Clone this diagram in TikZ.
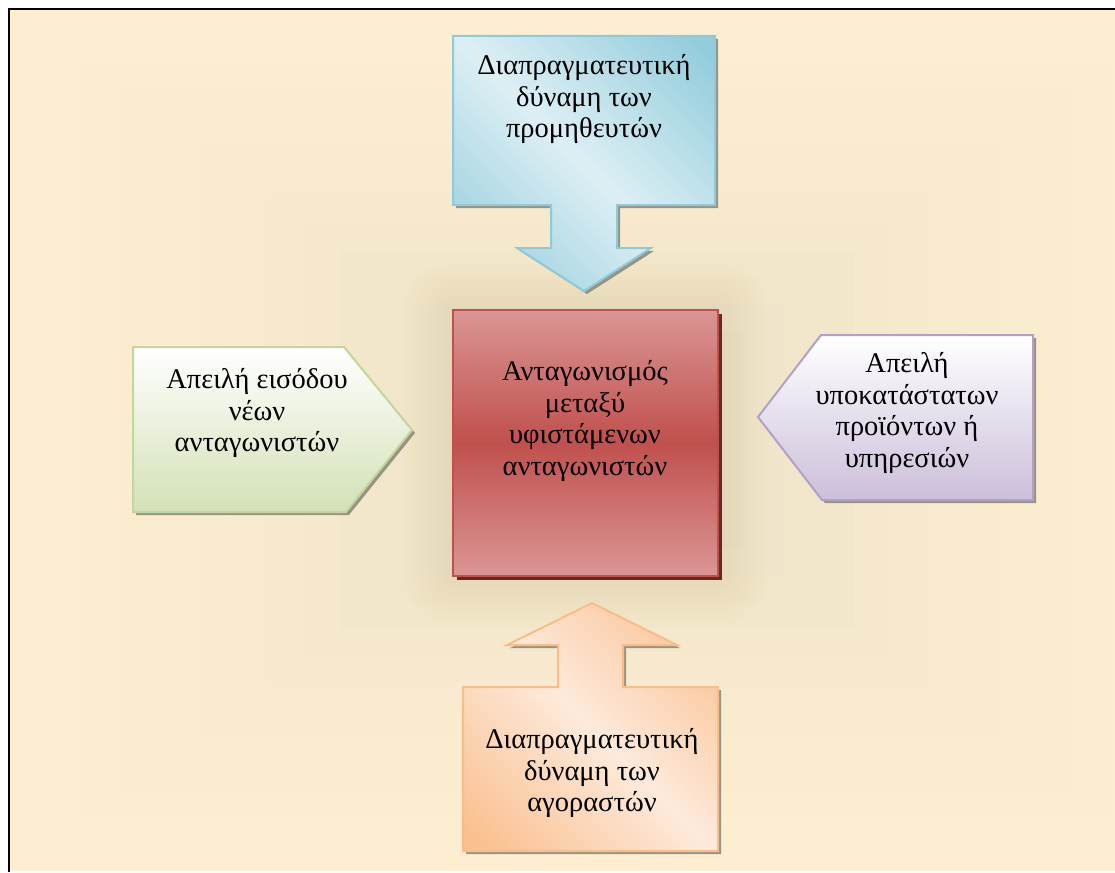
\documentclass[tikz,border=0pt]{standalone}
\usepackage{fontspec}
\setmainfont{Liberation Serif}
\usetikzlibrary{calc}

\definecolor{bgout}{HTML}{FDEED1}
\definecolor{bgin}{HTML}{EAE0C6}
\definecolor{glow}{HTML}{CDBE98}
\definecolor{shadowgray}{HTML}{989484}
\definecolor{blight}{HTML}{DDEFF4}
\definecolor{bdark}{HTML}{93CDDD}
\definecolor{bline}{HTML}{8FCADB}
\definecolor{rlight}{HTML}{DA9695}
\definecolor{rdark}{HTML}{C0504D}
\definecolor{rline}{HTML}{C0504D}
\definecolor{rshadow}{HTML}{6B2523}
\definecolor{gbot}{HTML}{D3E1B6}
\definecolor{gline}{HTML}{C3D69B}
\definecolor{pbot}{HTML}{CBBFDA}
\definecolor{pline}{HTML}{B2A1C7}
\definecolor{olight}{HTML}{FDEADB}
\definecolor{odark}{HTML}{FAC090}
\definecolor{oline}{HTML}{F9BD8C}

\pgfdeclarehorizontalshading{bluediag}{100bp}{color(0bp)=(bdark); color(18bp)=(bdark); color(50bp)=(blight); color(82bp)=(bdark); color(100bp)=(bdark)}
\pgfdeclarehorizontalshading{orangediag}{100bp}{color(0bp)=(odark); color(18bp)=(odark); color(50bp)=(olight); color(82bp)=(odark); color(100bp)=(odark)}

\tikzset{
  label text/.style={font=\fontsize{28.5}{31.5}\selectfont, align=center, inner sep=0pt},
  drop shadow fill/.style={fill=shadowgray},
  shape line/.style={line width=2pt, line join=miter},
}

\begin{document}
\begin{tikzpicture}[x=1pt,y=-1pt]
\useasboundingbox (0,0) rectangle (1115,872);
\fill[white] (0,0) rectangle (1115,872);

% backdrop: stepped rectangular gradient towards the centre
\foreach \i in {0,...,15}{
  \pgfmathsetmacro\f{\i/16}
  \pgfmathsetmacro\p{100*(\i/15)^1.3}
  \fill[bgin!\p!bgout] ({9+588*\f},{9+431*\f}) rectangle ({1185-588*\f},{871-431*\f});
}

% soft glow behind the central box
\foreach \r in {50,46,...,2}{
  \fill[glow, opacity=0.025, rounded corners={\r pt}] ({453-\r},{310-\r}) rectangle ({718+\r},{576+\r});
}

% frame
\draw[black, line width=2.2pt] (9,872) -- (9,9) -- (1115,9);

% ---------- suppliers (top, arrow pointing down) ----------
\fill[drop shadow fill, shift={(3,3)}]
  (453,36) -- (715,36) -- (715,205) -- (617,205) -- (617,248) -- (651,248) -- (584,291)
  -- (517,248) -- (551,248) -- (551,205) -- (453,205) -- cycle;
\path[shading=bluediag, shading angle=45]
  (453,36) -- (715,36) -- (715,205) -- (617,205) -- (617,248) -- (651,248) -- (584,291)
  -- (517,248) -- (551,248) -- (551,205) -- (453,205) -- cycle;
\draw[shape line, bline]
  (453,36) -- (715,36) -- (715,205) -- (617,205) -- (617,248) -- (651,248) -- (584,291)
  -- (517,248) -- (551,248) -- (551,205) -- (453,205) -- cycle;
\node[label text] (suppliers) at (584,99) {Διαπραγματευτική\\δύναμη των\\προμηθευτών};

% ---------- central rivalry box ----------
\fill[rshadow] (457,314) rectangle (722,580);
\shade[top color=rlight, bottom color=rlight, middle color=rdark] (453,310) rectangle (718,576);
\draw[shape line, rline] (453,310) rectangle (718,576);
\node[label text] (rivalry) at (585,421) {Ανταγωνισμός\\μεταξύ\\υφιστάμενων\\ανταγωνιστών};

% ---------- new entrants (left, pointing right) ----------
\fill[drop shadow fill, shift={(3,3)}]
  (133,347) -- (344,347) -- (412,430) -- (346,512) -- (133,512) -- cycle;
\shade[top color=white, bottom color=gbot]
  (133,347) -- (344,347) -- (412,430) -- (346,512) -- (133,512) -- cycle;
\draw[shape line, gline]
  (133,347) -- (344,347) -- (412,430) -- (346,512) -- (133,512) -- cycle;
\node[label text] (entrants) at (257,413) {Απειλή εισόδου\\νέων\\ανταγωνιστών};

% ---------- substitutes (right, pointing left) ----------
\fill[drop shadow fill, shift={(3,3)}]
  (758,417) -- (821,335) -- (1033,335) -- (1033,500) -- (822,500) -- cycle;
\shade[top color=white, bottom color=pbot]
  (758,417) -- (821,335) -- (1033,335) -- (1033,500) -- (822,500) -- cycle;
\draw[shape line, pline]
  (758,417) -- (821,335) -- (1033,335) -- (1033,500) -- (822,500) -- cycle;
\node[label text] (substitutes) at (907,413) {Απειλή\\υποκατάστατων\\προϊόντων ή\\υπηρεσιών};

% ---------- buyers (bottom, arrow pointing up) ----------
\fill[drop shadow fill, shift={(3,3)}]
  (463,687) -- (558,687) -- (558,645) -- (507,645) -- (592,603) -- (677,645) -- (623,645)
  -- (623,687) -- (718,687) -- (718,851) -- (463,851) -- cycle;
\path[shading=orangediag, shading angle=45]
  (463,687) -- (558,687) -- (558,645) -- (507,645) -- (592,603) -- (677,645) -- (623,645)
  -- (623,687) -- (718,687) -- (718,851) -- (463,851) -- cycle;
\draw[shape line, oline]
  (463,687) -- (558,687) -- (558,645) -- (507,645) -- (592,603) -- (677,645) -- (623,645)
  -- (623,687) -- (718,687) -- (718,851) -- (463,851) -- cycle;
\node[label text] (buyers) at (592,773) {Διαπραγματευτική\\δύναμη των\\αγοραστών};

\end{tikzpicture}
\end{document}
